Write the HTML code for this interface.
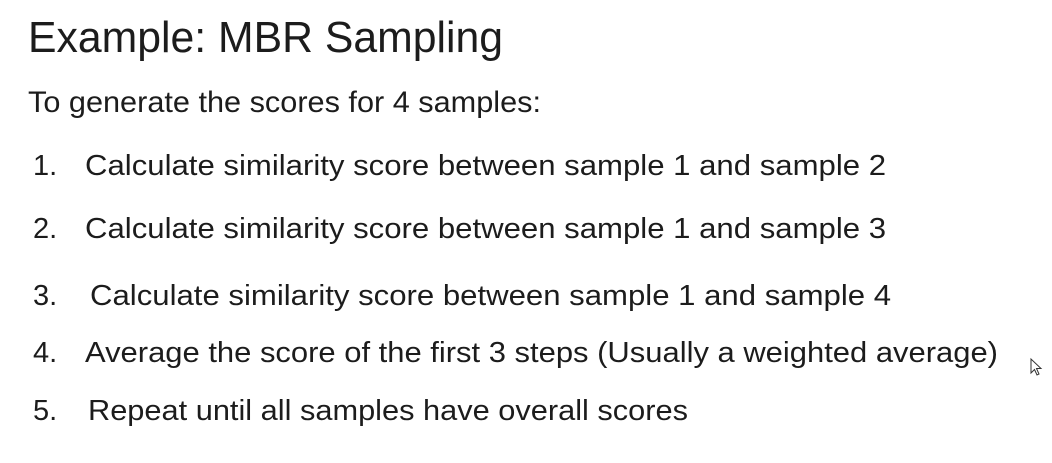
<!DOCTYPE html>
<html>
<head>
<meta charset="utf-8">
<style>
  html,body{margin:0;padding:0;background:#fff;}
  svg{display:block;}
  text{font-family:"Liberation Sans",sans-serif;fill:#1c1c1c;}
</style>
</head>
<body>
<svg width="1052" height="463" viewBox="0 0 1052 463">
  <rect width="1052" height="463" fill="#fff"/>
  <text x="28" y="52" font-size="44" textLength="475" lengthAdjust="spacingAndGlyphs">Example: MBR Sampling</text>
  <text x="28" y="112" font-size="30" textLength="513" lengthAdjust="spacingAndGlyphs">To generate the scores for 4 samples:</text>

  <text x="33" y="175" font-size="29">1.</text>
  <text x="85" y="175" font-size="29" textLength="801" lengthAdjust="spacingAndGlyphs">Calculate similarity score between sample 1 and sample 2</text>

  <text x="33" y="238" font-size="29">2.</text>
  <text x="85" y="238" font-size="29" textLength="801" lengthAdjust="spacingAndGlyphs">Calculate similarity score between sample 1 and sample 3</text>

  <text x="33" y="305" font-size="29">3.</text>
  <text x="90" y="305" font-size="29" textLength="801" lengthAdjust="spacingAndGlyphs">Calculate similarity score between sample 1 and sample 4</text>

  <text x="33" y="362" font-size="29">4.</text>
  <text x="85" y="362" font-size="29" textLength="913" lengthAdjust="spacingAndGlyphs">Average the score of the first 3 steps (Usually a weighted average)</text>

  <text x="33" y="420" font-size="29">5.</text>
  <text x="88" y="420" font-size="29" textLength="600" lengthAdjust="spacingAndGlyphs">Repeat until all samples have overall scores</text>

  <path d="M1031 359 L1031 373 L1034.5 369.5 L1037 375 L1039 374 L1036.5 368.5 L1041 368.5 Z" fill="#fff" stroke="#333" stroke-width="1"/>
</svg>
</body>
</html>
